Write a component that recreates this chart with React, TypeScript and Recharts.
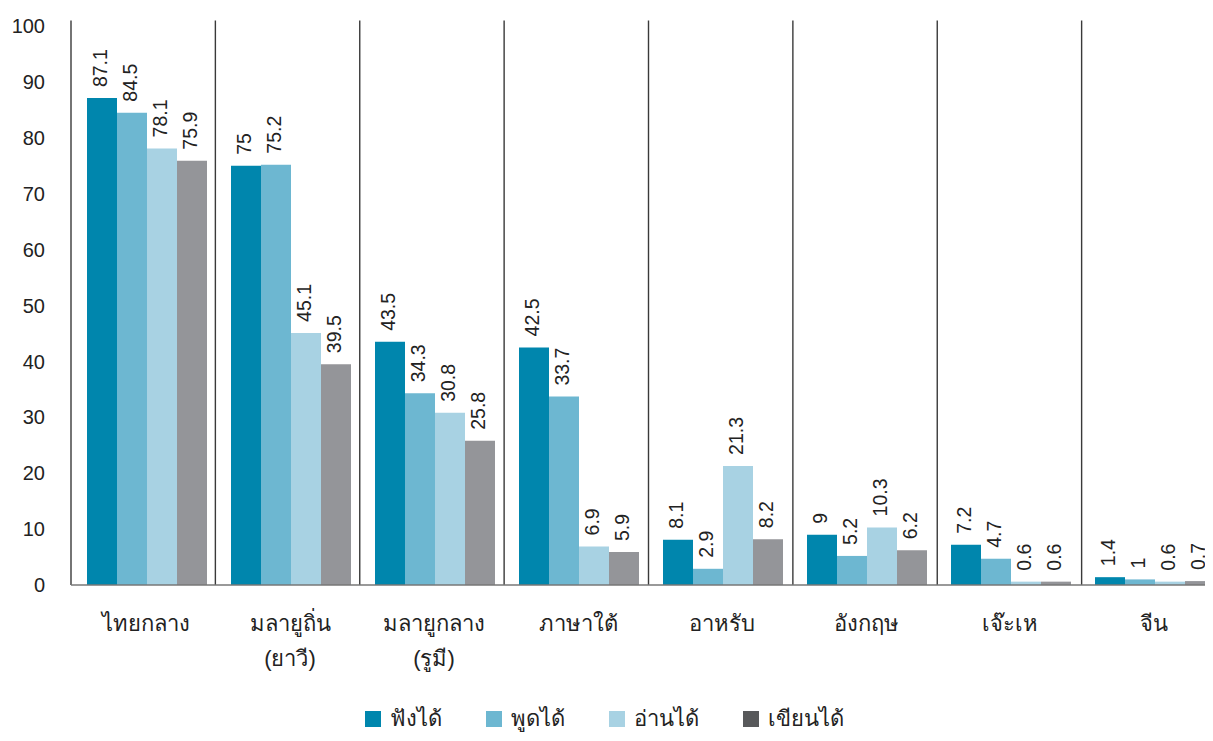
import React from 'react';
import { BarChart, Bar, XAxis, YAxis, Legend, LabelList, ReferenceLine } from 'recharts';

const categories = ['ไทยกลาง', 'มลายูถิ่น\n(ยาวี)', 'มลายูกลาง\n(รูมี)', 'ภาษาใต้', 'อาหรับ', 'อังกฤษ', 'เจ๊ะเห', 'จีน'];
const listen = [87.1, 75, 43.5, 42.5, 8.1, 9, 7.2, 1.4];
const speak = [84.5, 75.2, 34.3, 33.7, 2.9, 5.2, 4.7, 1];
const read = [78.1, 45.1, 30.8, 6.9, 21.3, 10.3, 0.6, 0.6];
const write = [75.9, 39.5, 25.8, 5.9, 8.2, 6.2, 0.6, 0.7];
const yTicks = [0, 10, 20, 30, 40, 50, 60, 70, 80, 90, 100];
const separators = [0, 1, 2, 3, 4, 5, 6, 7];

const series = [
  { key: 'listen', name: 'ฟังได้', color: '#0086ad', legend: '#0086ad' },
  { key: 'speak', name: 'พูดได้', color: '#6db7d1', legend: '#6db7d1' },
  { key: 'read', name: 'อ่านได้', color: '#a8d2e3', legend: '#a8d2e3' },
  { key: 'write', name: 'เขียนได้', color: '#949599', legend: '#58595b' },
];

const data = categories.map((c, i) => ({
  name: c,
  pos: i,
  listen: listen[i],
  speak: speak[i],
  read: read[i],
  write: write[i],
}));

const FONT = "'Liberation Sans', Arial, Helvetica, sans-serif";

const CategoryTick = (props: any) => {
  const { x, y, payload } = props;
  const lines = String(payload.value).split('\n');
  return (
    <text x={x} y={y} textAnchor="middle" fontSize={22} fill="#222" fontFamily={FONT}>
      {lines.map((l, i) => (
        <tspan key={i} x={x} dy={i === 0 ? 46 : 35}>{l}</tspan>
      ))}
    </text>
  );
};

const ValueLabel = (props: any) => {
  const { x, y, width, value } = props;
  const cx = x + width / 2 - 2;
  const cy = y - 11;
  return (
    <text
      x={cx}
      y={cy}
      transform={`rotate(-90 ${cx} ${cy})`}
      textAnchor="start"
      dominantBaseline="central"
      fontSize={19.5}
      fill="#222"
      fontFamily={FONT}
    >
      {value}
    </text>
  );
};

const LegendContent = () => (
  <div style={{ display: 'flex', paddingLeft: 357, alignItems: 'center', fontFamily: FONT, fontSize: 22, color: '#222' }}>
    {series.map((s) => (
      <div key={s.key} style={{ display: 'flex', alignItems: 'center', marginRight: 44 }}>
        <span style={{ width: 16, height: 16, background: s.legend, display: 'inline-block', marginRight: 9 }} />
        <span>{s.name}</span>
      </div>
    ))}
  </div>
);

export default function App() {
  return (
    <div style={{ width: 1205, overflow: 'hidden' }}>
      <BarChart
        width={1230}
        height={733}
        data={data}
        margin={{ top: 18, right: 12, left: 0, bottom: 0 }}
        barCategoryGap={13}
        barGap={0}
      >
        <XAxis
          dataKey="name"
          interval={0}
          tickLine={false}
          tickSize={0}
          tickMargin={0}
          padding={{ left: 3, right: 0 }}
          axisLine={{ stroke: '#777', strokeWidth: 1.5 }}
          tick={<CategoryTick />}
          height={116}
        />
        <XAxis xAxisId="sep" dataKey="pos" type="number" domain={[0, 8]} allowDataOverflow hide />
        <YAxis
          domain={[0, 100]}
          ticks={yTicks}
          axisLine={false}
          tickLine={false}
          tickSize={0}
          tickMargin={26}
          width={63}
          tick={{ fontSize: 20, fill: '#222', fontFamily: FONT }}
        />
        {separators.map((s) => (
          <ReferenceLine
            key={s}
            xAxisId="sep"
            segment={[{ x: s, y: 0 }, { x: s, y: 101 }]}
            stroke="#3a3a3a"
            strokeWidth={1.4}
            ifOverflow="visible"
          />
        ))}
        <Legend verticalAlign="bottom" height={40} content={<LegendContent />} />
        {series.map((s) => (
          <Bar key={s.key} dataKey={s.key} name={s.name} fill={s.color} isAnimationActive={false}>
            <LabelList dataKey={s.key} content={<ValueLabel />} />
          </Bar>
        ))}
      </BarChart>
    </div>
  );
}
